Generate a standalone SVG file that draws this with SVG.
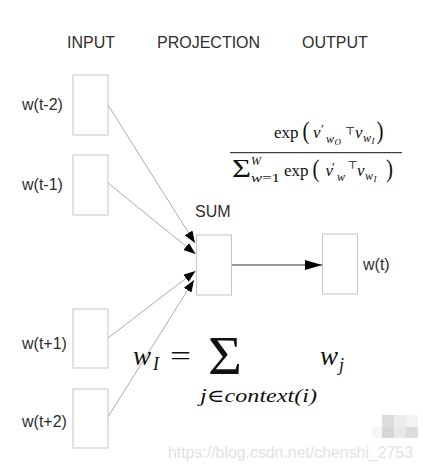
<svg xmlns="http://www.w3.org/2000/svg" width="423" height="472" viewBox="0 0 423 472">
<style>
.lbl{font-family:"Liberation Sans",Arial,sans-serif;font-size:16px;fill:#2e2e2e}
.box{fill:#fff;stroke:#c4c4c4;stroke-width:1}
.ln{stroke:#ababab;stroke-width:1;fill:none}
.m{font-family:"Liberation Serif","DejaVu Serif",serif;fill:#111}
.i{font-style:italic}
.sym{font-family:"DejaVu Serif","Liberation Serif",serif}
</style>
<defs>
<marker id="ah" viewBox="0 0 12 9" refX="12" refY="4.5" markerWidth="12" markerHeight="9" markerUnits="userSpaceOnUse" orient="auto"><path d="M0,0 L12,4.5 L0,9 z" fill="#000"/></marker>
<marker id="ah2" viewBox="0 0 17 10" refX="17" refY="5" markerWidth="17" markerHeight="10" markerUnits="userSpaceOnUse" orient="auto"><path d="M0,0 L17,5 L0,10 z" fill="#000"/></marker>
</defs>
<rect width="423" height="472" fill="#fff"/>
<g id="headers">
<text class="lbl" x="67" y="47.5">INPUT</text>
<text class="lbl" x="157" y="47.5">PROJECTION</text>
<text class="lbl" x="302" y="47.5">OUTPUT</text>
</g>
<g id="connectors">
<line class="ln" x1="108" y1="105" x2="195" y2="243" marker-end="url(#ah)"/>
<line class="ln" x1="108" y1="183" x2="195.5" y2="254" marker-end="url(#ah)"/>
<line class="ln" x1="108" y1="338" x2="195.5" y2="271" marker-end="url(#ah)"/>
<line class="ln" x1="108" y1="417" x2="194" y2="280" marker-end="url(#ah)"/>
<line x1="232" y1="265" x2="322" y2="265" stroke="#333" stroke-width="1" marker-end="url(#ah2)"/>
</g>
<g id="node-wt-2"><rect class="box" x="73" y="75" width="35" height="60"/><text class="lbl" x="22" y="110">w(t-2)</text></g>
<g id="node-wt-1"><rect class="box" x="73" y="155" width="35" height="60"/><text class="lbl" x="22" y="190">w(t-1)</text></g>
<g id="node-wt+1"><rect class="box" x="73" y="309" width="35" height="59"/><text class="lbl" x="22" y="349">w(t+1)</text></g>
<g id="node-wt+2"><rect class="box" x="73" y="389" width="35" height="59"/><text class="lbl" x="22" y="427">w(t+2)</text></g>
<g id="node-sum"><rect class="box" x="196.5" y="235" width="35" height="60"/><text class="lbl" x="195" y="217">SUM</text></g>
<g id="node-output"><rect class="box" x="322.5" y="234" width="35" height="60"/><text class="lbl" x="363" y="270">w(t)</text></g>
<g id="formula-softmax">
<text class="m" x="274" y="138" font-size="17">exp</text>
<text class="m" x="302.5" y="139" font-size="25" textLength="7" lengthAdjust="spacingAndGlyphs">(</text>
<text class="m i" x="313" y="138" font-size="17">v</text>
<text class="m" x="321" y="133" font-size="13">′</text>
<text class="m i" x="326" y="143" font-size="12">w</text>
<text class="m i" x="334.5" y="145" font-size="9">O</text>
<text class="sym" x="345" y="135" font-size="11" fill="#111">⊤</text>
<text class="m i" x="355" y="138" font-size="17">v</text>
<text class="m i" x="363" y="142" font-size="12">w</text>
<text class="m i" x="371.5" y="144" font-size="9">I</text>
<text class="m" x="376.5" y="139" font-size="25" textLength="7" lengthAdjust="spacingAndGlyphs">)</text>
<line x1="230" y1="152.7" x2="402" y2="152.7" stroke="#111" stroke-width="1"/>
<text class="m" x="232" y="176.5" font-size="25.5" textLength="19" lengthAdjust="spacingAndGlyphs">Σ</text>
<text class="m i" x="251" y="165" font-size="12">W</text>
<text class="m" x="251" y="181.5" font-size="12" textLength="29" lengthAdjust="spacingAndGlyphs"><tspan class="i">w</tspan>=1</text>
<text class="m" x="284" y="176" font-size="17">exp</text>
<text class="m" x="312.5" y="177" font-size="25" textLength="7" lengthAdjust="spacingAndGlyphs">(</text>
<text class="m i" x="325.5" y="176" font-size="17">v</text>
<text class="m" x="332" y="171" font-size="13">′</text>
<text class="m i" x="337" y="181" font-size="12">w</text>
<text class="sym" x="347.5" y="169" font-size="11" fill="#111">⊤</text>
<text class="m i" x="357" y="176" font-size="17">v</text>
<text class="m i" x="365" y="180" font-size="12">w</text>
<text class="m i" x="373.5" y="182" font-size="9">I</text>
<text class="m" x="386" y="177" font-size="25" textLength="7" lengthAdjust="spacingAndGlyphs">)</text>
</g>
<g id="formula-sum">
<text class="m i" x="133" y="365" font-size="27">w</text>
<text class="m i" x="153" y="370" font-size="18">I</text>
<text class="m" x="170" y="365" font-size="27" textLength="21" lengthAdjust="spacingAndGlyphs">=</text>
<text class="m" x="208" y="374" font-size="55" textLength="34" lengthAdjust="spacingAndGlyphs">Σ</text>
<text class="m i" x="320" y="365" font-size="27">w</text>
<text class="m i" x="339" y="371" font-size="18">j</text>
<text class="m i" x="200" y="401.5" font-size="18" textLength="117" lengthAdjust="spacingAndGlyphs">j<tspan font-style="normal">∈</tspan>context(i)</text>
</g>
<g id="watermark">
<rect x="372" y="427" width="10" height="11" fill="#f6f6f6"/>
<rect x="382" y="415" width="12" height="12" fill="#dcdcdc"/>
<rect x="394" y="415" width="12" height="12" fill="#ececec"/>
<rect x="406" y="415" width="12" height="12" fill="#f3f3f3"/>
<rect x="382" y="427" width="12" height="11" fill="#d6d6d6"/>
<rect x="394" y="427" width="12" height="11" fill="#e8e8e8"/>
<rect x="406" y="427" width="12" height="11" fill="#dcdcdc"/>
<text x="168" y="458" font-family="Liberation Sans,Arial,sans-serif" font-size="16" fill="#e2e2e2" textLength="245" lengthAdjust="spacingAndGlyphs">https://blog.csdn.net/chenshi_2753</text>
</g>
</svg>
